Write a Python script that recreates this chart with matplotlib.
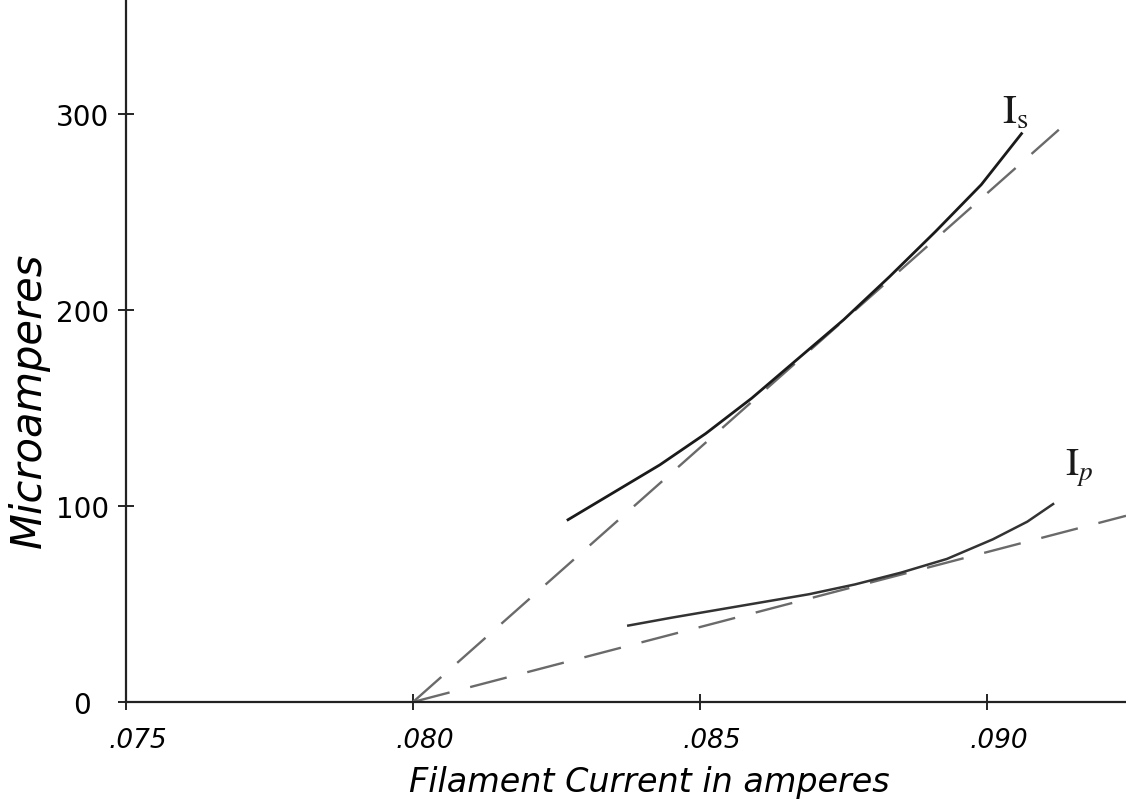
#Hand-drawn style plot of plate and saturation current against filament current.
import matplotlib
matplotlib.use("Agg")
import matplotlib.pyplot as plt
from matplotlib.transforms import ScaledTranslation

#Solid curve for Is (saturation current).
is_solid_x = [0.0827, 0.0835, 0.0843, 0.0851, 0.0859, 0.0867, 0.0875, 0.0883, 0.0891, 0.0899, 0.0906]
is_solid_y = [93, 107, 121, 137, 155, 175, 195, 217, 240, 264, 290]

#Dashed straight line for Is.
is_dash_x = [0.0800, 0.09125]
is_dash_y = [0, 292]

#Solid curve for Ip (plate current).
ip_solid_x = [0.08375, 0.0845, 0.0853, 0.0861, 0.0869, 0.0877, 0.0885, 0.0893, 0.0901, 0.0907, 0.09115]
ip_solid_y = [39, 43, 47, 51, 55, 60, 66, 73, 83, 92, 101]

#Dashed straight line for Ip.
ip_dash_x = [0.0800, 0.09242]
ip_dash_y = [0, 95]

#Tick positions and labels.
x_ticks = [0.075, 0.080, 0.085, 0.090]
x_tick_labels = ['.075', '.080', '.085', '.090']
y_ticks = [0, 100, 200, 300]
y_tick_labels = ['0', '100', '200', '300']


def main():
    """Mainline logic for drawing the chart."""
    plt.rcParams['mathtext.fontset'] = 'stix'
    fig = plt.figure(figsize=(11.26, 8.12), dpi=100)
    ax = fig.add_axes([126 / 1126, 109 / 812, 1000 / 1126, 703 / 812])

    #The curves and their dashed straight lines.
    ax.plot(ip_dash_x, ip_dash_y, color='#6a6a6a', linewidth=1.7, dashes=(16, 9))
    ax.plot(is_dash_x, is_dash_y, color='#6a6a6a', linewidth=1.7, dashes=(16, 9))
    ax.plot(is_solid_x, is_solid_y, color='#1a1a1a', linewidth=2.0)
    ax.plot(ip_solid_x, ip_solid_y, color='#333333', linewidth=1.8)

    #Curve names.
    ax.text(0.0905, 302, r'$\mathrm{I}_{\mathrm{s}}$', fontsize=30,
            ha='center', va='center', color='#1a1a1a')
    ax.text(0.0916, 120, r'$\mathrm{I}_{p}$', fontsize=28,
            ha='center', va='center', color='#1a1a1a')

    #Axis limits.
    ax.set_xlim(0.075, 0.09242)
    ax.set_ylim(0, 358.7)

    #Only the left and bottom axis lines.
    for side in ['top', 'right']:
        ax.spines[side].set_visible(False)
    for side in ['left', 'bottom']:
        ax.spines[side].set_linewidth(1.6)
        ax.spines[side].set_color('#222222')

    #Ticks that cross the axis lines.
    ax.set_xticks(x_ticks, x_tick_labels, fontsize=19, fontstyle='italic')
    ax.set_yticks(y_ticks, y_tick_labels, fontsize=20)
    ax.tick_params(axis='x', direction='inout', length=12, width=1.2, pad=12)
    ax.tick_params(axis='y', direction='inout', length=12, width=1.2, pad=6)

    #The hand lettering sits a little to the right of each x tick.
    shift = ScaledTranslation(12 / 100, 0, fig.dpi_scale_trans)
    for label in ax.get_xticklabels():
        label.set_transform(label.get_transform() + shift)
    #The zero is written further to the left.
    zero_shift = ScaledTranslation(-18 / 100, 0, fig.dpi_scale_trans)
    zero_label = ax.get_yticklabels()[0]
    zero_label.set_transform(zero_label.get_transform() + zero_shift)

    #Axis titles.
    ax.set_xlabel("Filament Current in amperes", fontsize=24, fontstyle='italic')
    ax.xaxis.set_label_coords(0.523, -0.090)
    ax.set_ylabel("Microamperes", fontsize=30, fontstyle='italic')
    ax.yaxis.set_label_coords(-0.076, 0.431)

    fig.savefig('out.png', dpi=100)


#Call the main function.
if __name__ == '__main__':
    main()
